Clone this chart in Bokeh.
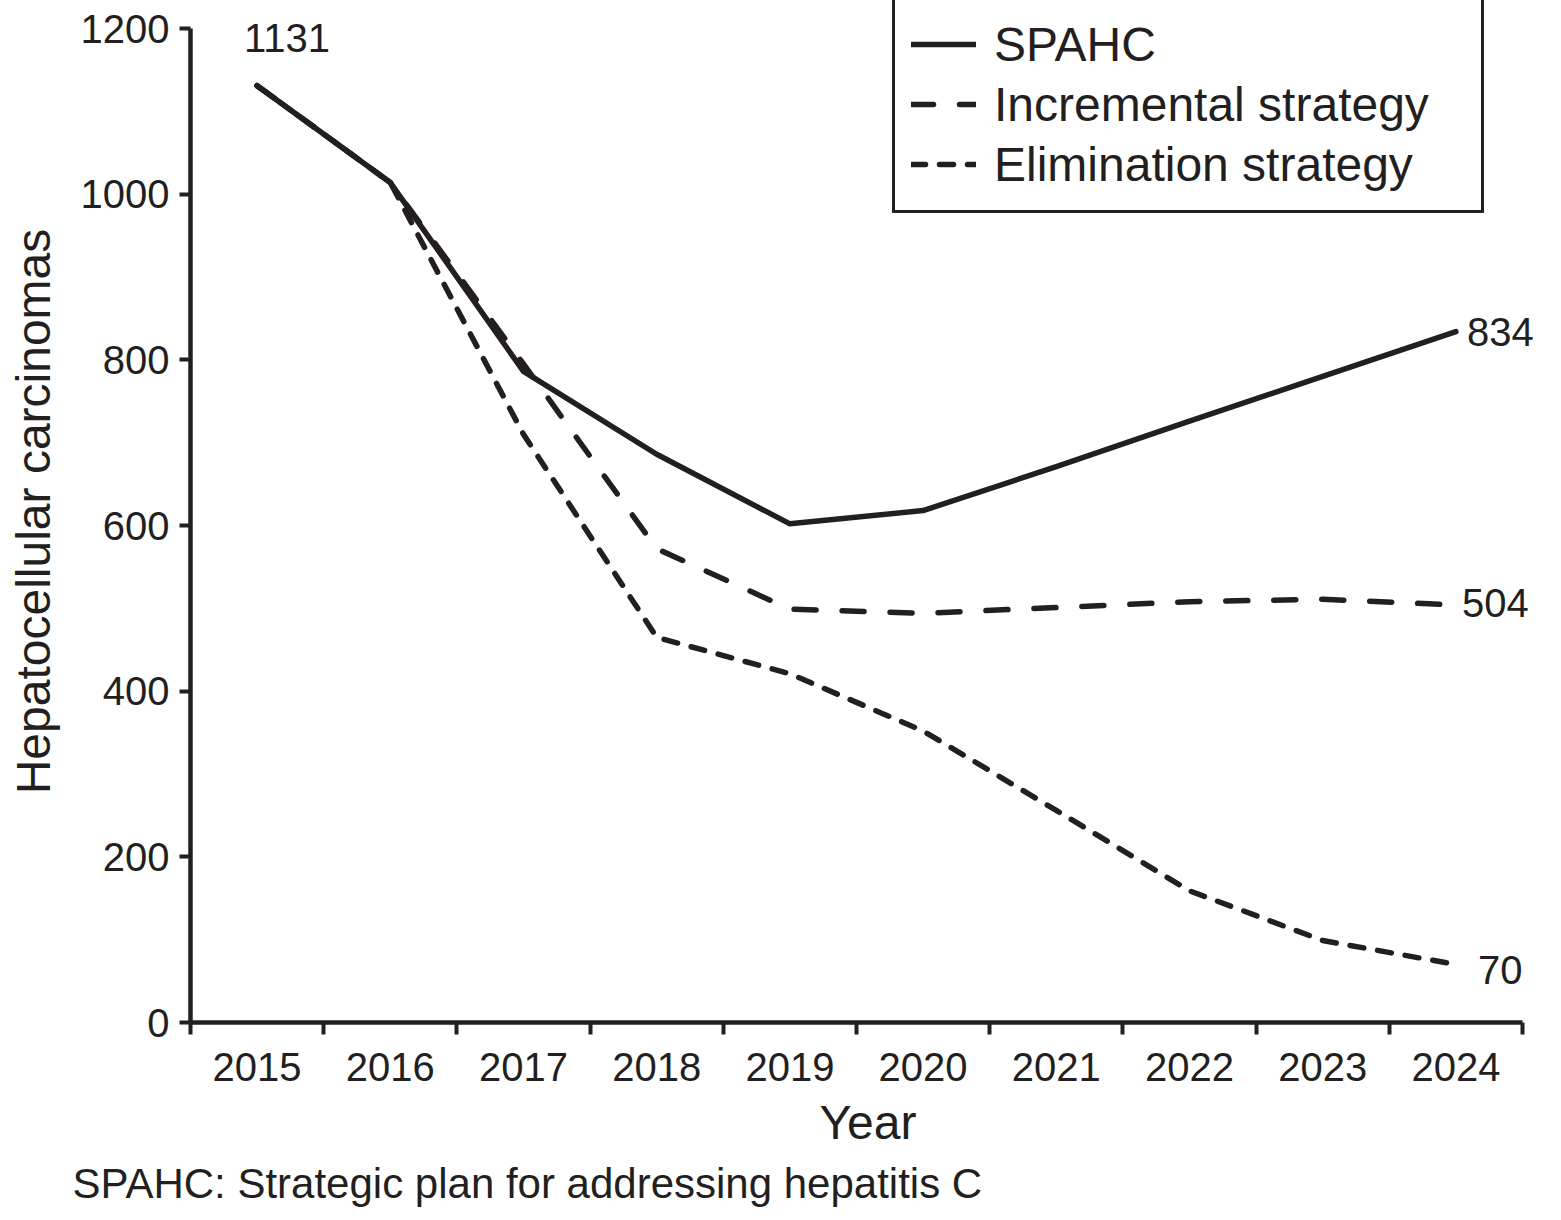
from bokeh.plotting import figure
from bokeh.models import Range1d, FixedTicker, Legend, LegendItem, Title
from bokeh.core.properties import value
from bokeh.embed import file_html
from bokeh.resources import INLINE

# ---- data ----
years = [2015, 2016, 2017, 2018, 2019, 2020, 2021, 2022, 2023, 2024]
spahc = [1131, 1014, 786, 686, 602, 618, 671, 726, 780, 834]
incremental = [1131, 1014, 795, 572, 499, 494, 501, 508, 511, 504]
elimination = [1131, 1014, 710, 465, 421, 352, 256, 159, 99, 70]
y_ticks = [0, 200, 400, 600, 800, 1000, 1200]
series_names = ["SPAHC", "Incremental strategy", "Elimination strategy"]
x_label = "Year"
y_label = "Hepatocellular carcinomas"
footnote = "SPAHC: Strategic plan for addressing hepatitis C"

# ---- style ----
INK = "#231f20"
FONT = "Liberation Sans"
FRAME_W, FRAME_H = 1355, 1022
PX_PER_YEAR = 133.2
PX_PER_UNIT = 994 / 1200

x0 = years[0] - 0.5
p = figure(
    title=None,
    frame_width=FRAME_W, frame_height=FRAME_H,
    min_border_left=190, min_border_right=0, min_border_top=0, min_border_bottom=190,
    x_range=Range1d(x0, x0 + FRAME_W / PX_PER_YEAR),
    y_range=Range1d(0, FRAME_H / PX_PER_UNIT),
    output_backend="svg", toolbar_location=None,
    background_fill_color="white", border_fill_color="white",
)
p.outline_line_color = None
p.xgrid.visible = False
p.ygrid.visible = False

# x axis
xa = p.xaxis[0]
xa.ticker = FixedTicker(ticks=years, minor_ticks=[y - 0.5 for y in years] + [years[-1] + 0.5])
xa.bounds = (years[0] - 0.5, years[-1] + 0.5)
xa.major_tick_out = 0
xa.major_tick_in = 0
xa.minor_tick_out = 12
xa.minor_tick_in = 0
xa.minor_tick_line_width = 4
xa.minor_tick_line_color = INK
xa.axis_line_width = 4.5
xa.axis_line_color = INK
xa.major_label_standoff = 18
xa.major_label_text_font = FONT
xa.major_label_text_font_size = "40px"
xa.major_label_text_color = INK
xa.axis_label = x_label
xa.axis_label_text_font = FONT
xa.axis_label_text_font_size = "48px"
xa.axis_label_text_font_style = "normal"
xa.axis_label_text_color = INK
xa.axis_label_standoff = 12

# y axis
ya = p.yaxis[0]
ya.ticker = FixedTicker(ticks=y_ticks, minor_ticks=[])
ya.bounds = (y_ticks[0], y_ticks[-1])
ya.major_tick_out = 11
ya.major_tick_in = 0
ya.major_tick_line_width = 4
ya.major_tick_line_color = INK
ya.axis_line_width = 4.5
ya.axis_line_color = INK
ya.major_label_standoff = 10
ya.major_label_text_font = FONT
ya.major_label_text_font_size = "40px"
ya.major_label_text_color = INK
ya.axis_label = y_label
ya.axis_label_text_font = FONT
ya.axis_label_text_font_size = "48px"
ya.axis_label_text_font_style = "normal"
ya.axis_label_text_color = INK
ya.axis_label_standoff = 18

# lines
common = dict(line_color=INK, line_width=5.5, line_cap="round", line_join="round")
r_elim = p.line(years, elimination, line_dash="14 14", **common)
r_inc = p.line(years, incremental, line_dash="22 26", **common)
r_spahc = p.line(years, spahc, **common)

# value labels
lab = dict(text_font=value(FONT), text_font_size=value("40px"), text_color=INK,
           text_baseline="middle")
p.text(x=[years[0]], y=[spahc[0]], text=[str(spahc[0])], text_align="center",
       x_offset=30, y_offset=-48, **lab)
p.text(x=[years[-1]], y=[spahc[-1]], text=[str(spahc[-1])], text_align="left",
       x_offset=11, y_offset=0, **lab)
p.text(x=[years[-1]], y=[incremental[-1]], text=[str(incremental[-1])], text_align="left",
       x_offset=6, y_offset=-2, **lab)
p.text(x=[years[-1]], y=[elimination[-1]], text=[str(elimination[-1])], text_align="left",
       x_offset=22, y_offset=5, **lab)

# legend
legend = Legend(
    items=[LegendItem(label=series_names[0], renderers=[r_spahc]),
           LegendItem(label=series_names[1], renderers=[r_inc]),
           LegendItem(label=series_names[2], renderers=[r_elim])],
    location=(702, 809),
    padding=16, spacing=0,
    glyph_width=65, glyph_height=60, label_height=60, label_width=471, label_standoff=18,
    label_text_font=FONT, label_text_font_size="48px", label_text_color=INK,
    border_line_color=INK, border_line_width=3, border_line_alpha=1.0,
    background_fill_color="white", background_fill_alpha=1.0,
)
p.add_layout(legend)

# footnote
p.add_layout(Title(text=footnote, align="left", offset=-118, standoff=12,
                   text_font=FONT, text_font_size="42px", text_font_style="normal",
                   text_color=INK), "below")

open("out.html", "w").write(file_html(p, INLINE))
